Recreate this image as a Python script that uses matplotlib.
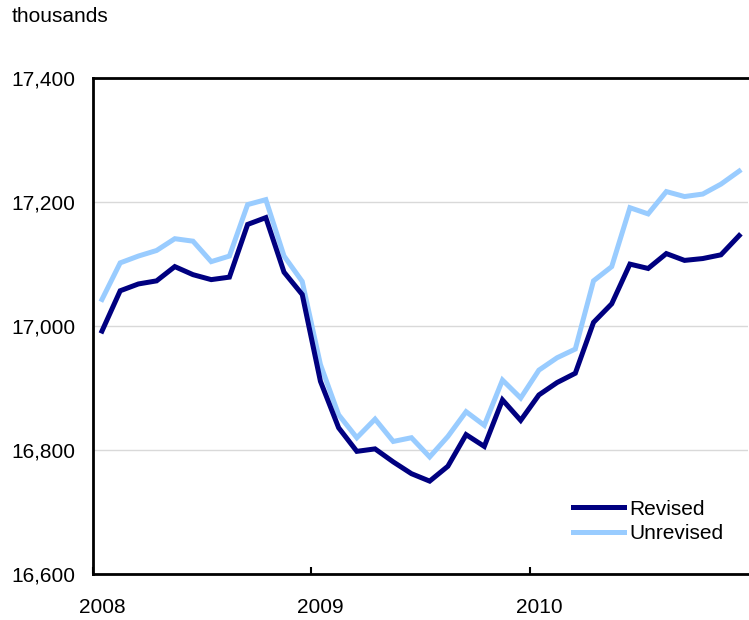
import matplotlib.pyplot as plt
import numpy as np

plt.rc('font', family='Liberation Sans', size=15)

# monthly values, Jan 2008 - Dec 2010 (thousands)
revised = [16992, 17057, 17068, 17073, 17096, 17083, 17075, 17079, 17164, 17175, 17087, 17051,
           16911, 16836, 16798, 16802, 16781, 16762, 16750, 16774, 16825, 16806, 16881, 16848,
           16889, 16909, 16924, 17006, 17036, 17100, 17093, 17117, 17106, 17109, 17115, 17146]
unrevised = [17043, 17102, 17113, 17122, 17141, 17137, 17104, 17113, 17196, 17204, 17113, 17072,
             16938, 16857, 16820, 16850, 16814, 16820, 16789, 16822, 16862, 16840, 16913, 16884,
             16929, 16949, 16963, 17073, 17096, 17191, 17181, 17217, 17209, 17213, 17229, 17250]
years = ['2008', '2009', '2010']
yticks = [16600, 16800, 17000, 17200, 17400]

x = np.arange(len(revised)) + 0.5

fig = plt.figure(figsize=(7.49, 6.2), dpi=100)
ax = fig.add_axes([0.124, 0.074, 0.875, 0.8])

ax.plot(x, revised, color='#000080', lw=3.6, label='Revised', solid_joinstyle='miter', zorder=3)
ax.plot(x, unrevised, color='#99ccff', lw=3.6, label='Unrevised', solid_joinstyle='miter', zorder=2)

ax.set_xlim(0, 36)
ax.set_ylim(16600, 17400)
ax.set_yticks(yticks)
ax.set_yticklabels(['{:,}'.format(v) for v in yticks])
ax.tick_params(axis='y', length=0, pad=12.5)
ax.grid(axis='y', color='#d9d9d9', lw=1)
ax.set_axisbelow(True)

ax.set_xticks([0, 12, 24])
ax.set_xticklabels([])
ax.set_xticks([0.5, 12.5, 24.5], minor=True)
ax.set_xticklabels(years, minor=True)
ax.tick_params(axis='x', which='major', direction='in', length=5, width=1.5)
ax.tick_params(axis='x', which='minor', length=0, pad=17.5)

for s in ['left', 'bottom', 'top']:
    ax.spines[s].set_linewidth(2)
ax.spines['right'].set_visible(False)

fig.text(12 / 749, 1 - 17 / 620, 'thousands', ha='left', va='center')

ax.legend(loc='upper left', bbox_to_anchor=(0.733, 0.15), frameon=False,
          borderpad=0, borderaxespad=0, handlelength=2.45, handletextpad=0.25,
          labelspacing=0.25)

plt.savefig('out.png', dpi=100)
